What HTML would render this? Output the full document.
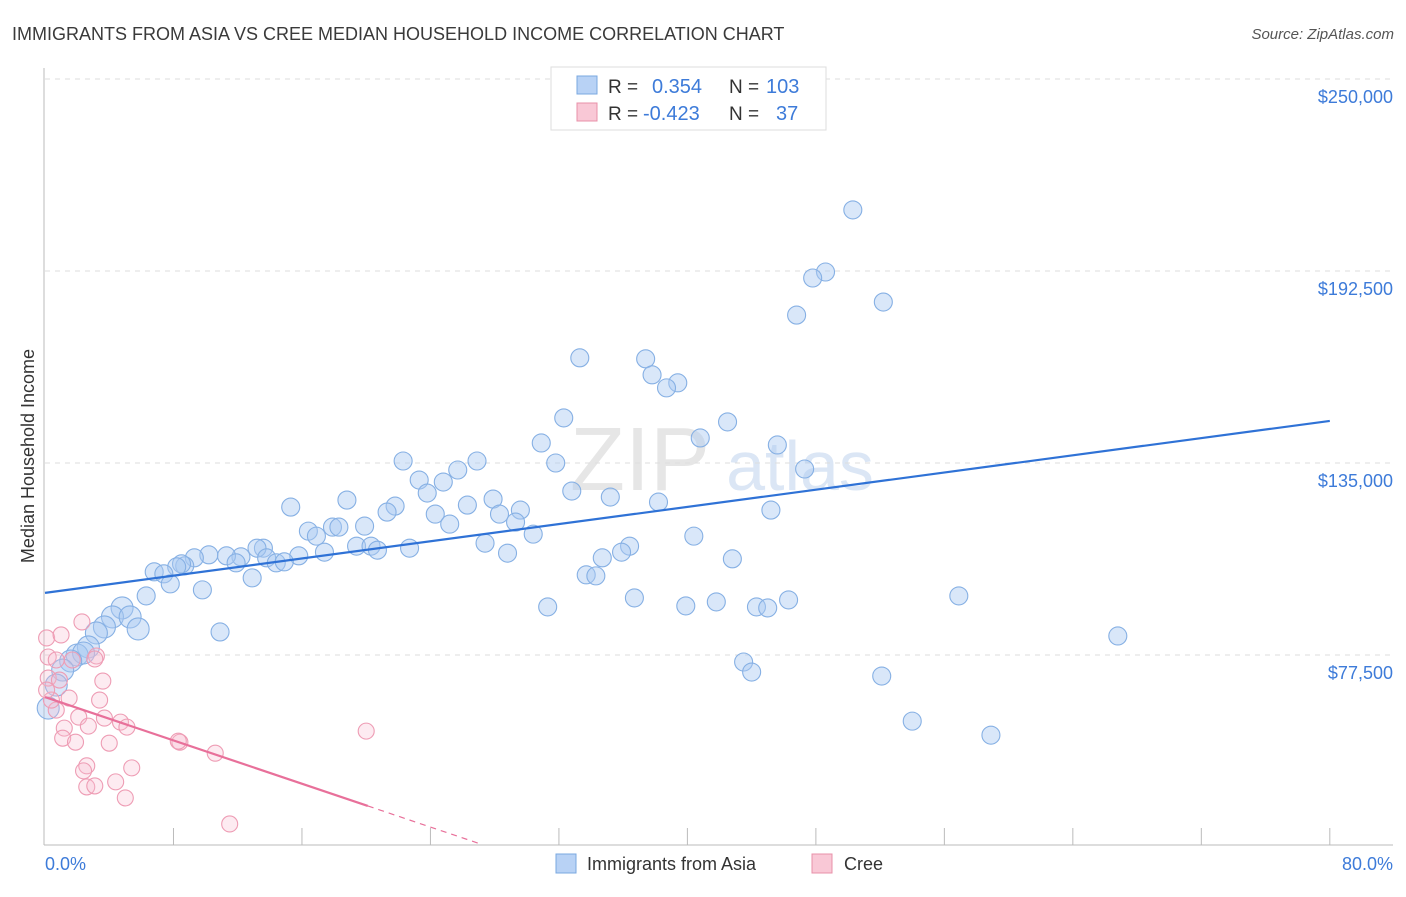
<!DOCTYPE html>
<html><head><meta charset="utf-8"><style>
body{margin:0;background:#fff;font-family:"Liberation Sans",sans-serif}
svg text{font-family:"Liberation Sans",sans-serif}
</style></head><body>
<svg id="c" width="1406" height="892">
<text x="12" y="40" font-size="18" fill="#3a3a3a">IMMIGRANTS FROM ASIA VS CREE MEDIAN HOUSEHOLD INCOME CORRELATION CHART</text>
<text x="1394" y="39" font-size="15" fill="#555" font-style="italic" text-anchor="end">Source: ZipAtlas.com</text>
<text x="640" y="490" font-size="90" fill="#e6e6e6" font-family="Liberation Serif" text-anchor="middle">ZIP</text>
<text x="800" y="490" font-size="70" fill="#dbe6f5" text-anchor="middle">atlas</text>
<g id="grid"></g><g id="axes"></g><g id="pts"></g><g id="trend"></g>
<text transform="translate(34,456) rotate(-90)" font-size="18" fill="#333" text-anchor="middle">Median Household Income</text>
<text x="45" y="870" font-size="18" fill="#3d7bd9">0.0%</text>
<text x="1393" y="870" font-size="18" fill="#3d7bd9" text-anchor="end">80.0%</text>
<g>
<rect x="551" y="67" width="275" height="63" fill="#fff" stroke="#ddd"/>
<rect x="577" y="76" width="20" height="18" fill="#b8d2f5" stroke="#7aa8e0"/>
<rect x="577" y="103" width="20" height="18" fill="#f9c8d6" stroke="#e890a8"/>
<text x="608" y="93" font-size="19" fill="#333">R = </text><text x="652" y="93" font-size="20" fill="#3d7bd9">0.354</text>
<text x="729" y="93" font-size="19" fill="#333">N = </text><text x="766" y="93" font-size="20" fill="#3d7bd9">103</text>
<text x="608" y="120" font-size="19" fill="#333">R = </text><text x="643" y="120" font-size="20" fill="#3d7bd9">-0.423</text>
<text x="729" y="120" font-size="19" fill="#333">N = </text><text x="776" y="120" font-size="20" fill="#3d7bd9">37</text>
</g>
<g>
<rect x="556" y="854" width="20" height="19" fill="#b8d2f5" stroke="#7aa8e0"/>
<text x="587" y="870" font-size="18" fill="#333">Immigrants from Asia</text>
<rect x="812" y="854" width="20" height="19" fill="#f9c8d6" stroke="#e890a8"/>
<text x="844" y="870" font-size="18" fill="#333">Cree</text>
</g>
</svg>
<script>
const yTicks=[77500,135000,192500,250000];
const yTickLabels=["$77,500","$135,000","$192,500","$250,000"];
const blueX=[50.3,48.6,47.8,52.2,46.8,33.3,37.4,37.8,39.4,38.7,32.3,42.5,40.8,30.9,45.6,31.8,22.3,26.9,25.7,47.3,23.3,24.8,23.8,32.8,35.2,27.9,26.3,38.2,15.3,18.8,21.8,21.3,24.3,29.6,28.3,45.2,25.2,29.3,19.9,16.4,17.9,18.3,16.9,30.4,40.4,27.4,36.4,35.9,28.8,22.7,19.4,20.3,20.7,17.4,15.8,13.6,13.2,13.8,14.4,14.9,12.2,11.3,10.2,9.3,11.9,8.7,8.5,8.2,6.8,7.4,12.9,7.8,34.7,42.8,33.7,34.3,9.8,6.3,36.7,46.3,56.9,41.8,39.9,44.3,45.0,31.3,4.8,4.2,5.3,3.7,5.8,3.2,10.9,66.8,2.7,2.0,2.4,1.6,1.1,43.5,44.0,52.1,0.7,54.0,0.2,58.9];
const blueY=[210.8,192.2,190.4,183.2,179.3,166.5,166.2,161.4,159.0,157.5,148.5,147.3,142.5,141.0,140.4,135.0,135.6,135.6,132.9,133.2,129.9,129.3,126.0,126.6,124.8,124.2,122.4,123.3,121.8,123.9,122.1,120.3,119.7,120.9,119.7,120.9,116.7,117.3,116.1,114.6,115.8,115.8,113.1,113.7,113.1,111.0,110.1,108.3,108.0,109.5,110.1,110.1,108.9,108.3,107.2,109.5,109.5,106.6,105.1,105.4,106.9,107.2,107.5,106.6,105.1,104.2,104.8,103.9,102.4,101.8,100.6,98.8,106.6,106.3,101.5,101.2,97.0,95.2,94.6,94.0,95.2,93.4,92.2,91.9,91.6,91.9,91.6,88.9,88.9,85.9,85.3,84.1,84.4,83.2,79.9,77.5,78.1,75.7,73.0,75.4,72.4,71.2,68.5,57.7,61.6,53.5];
const pinkX=[0.1,1.0,2.3,0.2,0.7,3.2,3.1,0.2,0.9,3.6,1.5,3.4,0.7,2.1,3.7,4.7,1.2,2.7,5.1,20.0,1.1,1.9,4.0,8.4,8.3,10.6,2.6,2.4,5.4,4.4,2.6,3.1,5.0,11.5,0.4,1.7,0.1];
const pinkY=[82.6,83.5,87.4,76.9,76.0,77.2,76.3,70.6,70.0,69.7,64.6,64.0,61.0,58.9,58.6,57.4,55.6,56.2,55.9,54.7,52.6,51.4,51.1,51.4,51.7,48.1,44.3,42.8,43.7,39.5,38.0,38.3,34.7,26.9,64.0,76.0,67.0];
const blueTrend=[[0,96.1],[80,147.6]];
const pinkTrend=[[0,64.9],[20.1,32.3],[27,21.1]];
const NS="http://www.w3.org/2000/svg";
const X=v=>45+v*16.06;
const Y=v=>655-(v-77.5)*192/57.5;
function mk(tag,attrs,parent){const e=document.createElementNS(NS,tag);for(const k in attrs)e.setAttribute(k,attrs[k]);document.getElementById(parent).appendChild(e);return e;}
yTicks.forEach((t,i)=>{
 const l=mk('line',{x1:45,x2:1393,y1:Y(t/1000),y2:Y(t/1000),stroke:'#ddd','stroke-dasharray':'5,5'},'grid');
 
 
 const tx=mk('text',{x:1393,y:Y(t/1000)+24,'font-size':18,fill:'#3d7bd9','text-anchor':'end'},'grid');
 tx.textContent=yTickLabels[i];
 
 
});
const ax=mk('line',{x1:44,x2:44,y1:68,y2:845,stroke:'#bbb'},'axes');


const bx=mk('line',{x1:44,x2:1393,y1:845,y2:845,stroke:'#bbb'},'axes');


for(let i=1;i<=10;i++){const t=mk('line',{x1:X(i*8),x2:X(i*8),y1:828,y2:845,stroke:'#bbb'},'axes');
 
 }
blueX.forEach((x,i)=>{const c=mk('circle',{cx:X(x),cy:Y(blueY[i]),r:x<6?11:9,fill:'rgba(170,202,242,0.45)',stroke:'#86b0e4','stroke-width':1.1},'pts');
 
 });
pinkX.forEach((x,i)=>{const c=mk('circle',{cx:X(x),cy:Y(pinkY[i]),r:8,fill:'rgba(247,190,208,0.3)',stroke:'#ee9cb4','stroke-width':1.1},'pts');
 
 });
const bl=mk('line',{x1:X(blueTrend[0][0]),y1:Y(blueTrend[0][1]),x2:X(blueTrend[1][0]),y2:Y(blueTrend[1][1]),stroke:'#2f72d6','stroke-width':2.2},'trend');


const pl=mk('line',{x1:X(pinkTrend[0][0]),y1:Y(pinkTrend[0][1]),x2:X(pinkTrend[1][0]),y2:Y(pinkTrend[1][1]),stroke:'#e8709a','stroke-width':2.2},'trend');


const pd=mk('line',{x1:X(pinkTrend[1][0]),y1:Y(pinkTrend[1][1]),x2:X(pinkTrend[2][0]),y2:Y(pinkTrend[2][1]),stroke:'#e8709a','stroke-width':1.2,'stroke-dasharray':'6,5'},'trend');


</script>
</body></html>
